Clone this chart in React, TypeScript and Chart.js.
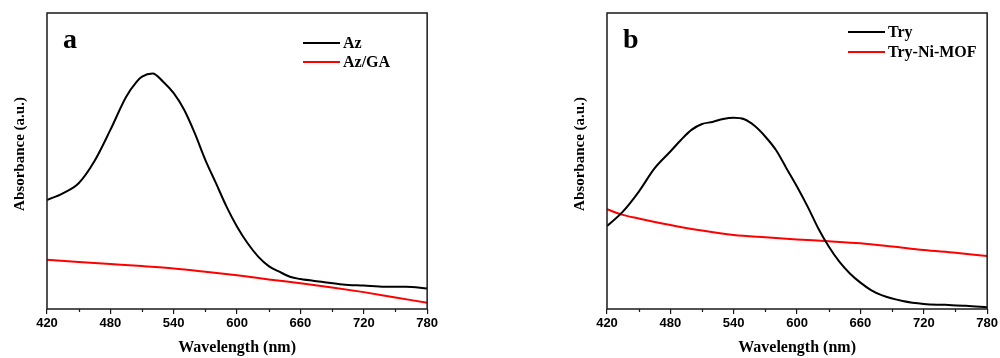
import React, { useEffect, useRef } from "react";
import { Chart, registerables } from "chart.js";
Chart.register(...registerables);

const X_MIN = 420;
const X_MAX = 780;
const X_STEP = 60;
const X_MINOR = [450, 510, 570, 630, 690, 750];

const AZ_X = [420, 435, 450, 465, 480, 495, 505, 510, 520, 530, 540, 550, 560, 570, 580, 590, 600, 610, 620, 630, 640, 650, 660, 680, 700, 720, 740, 760, 780];
const AZ_Y = [0.368, 0.391, 0.425, 0.5, 0.605, 0.717, 0.768, 0.785, 0.796, 0.768, 0.729, 0.672, 0.593, 0.503, 0.425, 0.346, 0.278, 0.222, 0.177, 0.145, 0.126, 0.109, 0.101, 0.092, 0.083, 0.079, 0.075, 0.075, 0.069];

const AZGA_X = [420, 480, 510, 540, 570, 600, 630, 660, 690, 720, 750, 780];
const AZGA_Y = [0.166, 0.152, 0.145, 0.137, 0.126, 0.114, 0.1, 0.087, 0.073, 0.057, 0.039, 0.021];

const TRY_X = [420, 435, 450, 465, 480, 490, 500, 510, 520, 530, 540, 550, 560, 570, 580, 590, 600, 610, 620, 630, 640, 650, 660, 670, 680, 700, 720, 740, 760, 780];
const TRY_Y = [0.28, 0.329, 0.396, 0.475, 0.532, 0.571, 0.605, 0.625, 0.632, 0.642, 0.646, 0.641, 0.618, 0.582, 0.537, 0.475, 0.413, 0.346, 0.273, 0.211, 0.16, 0.12, 0.089, 0.064, 0.047, 0.027, 0.017, 0.014, 0.011, 0.006];

const MOF_X = [420, 435, 450, 480, 510, 540, 570, 600, 630, 660, 690, 720, 750, 780];
const MOF_Y = [0.337, 0.318, 0.306, 0.284, 0.265, 0.25, 0.242, 0.235, 0.229, 0.222, 0.211, 0.199, 0.19, 0.179];

const LABELS_A = ["Az", "Az/GA"];
const LABELS_B = ["Try", "Try-Ni-MOF"];
const COLORS = ["#000000", "#ff0000"];
const X_TITLE = "Wavelength (nm)";
const Y_TITLE = "Absorbance (a.u.)";

const SERIF = "'Liberation Serif', 'Times New Roman', serif";
const SANS = "'Liberation Sans', Arial, sans-serif";

type PanelProps = {
  letter: string;
  xs: number[][];
  ys: number[][];
  labels: string[];
  legendRows: number[];
  legendX: number;
  left: number;
};

function Panel({ letter, xs, ys, labels, legendRows, legendX, left }: PanelProps) {
  const ref = useRef<HTMLCanvasElement | null>(null);
  useEffect(() => {
    if (!ref.current) return;
    const decor = {
      id: "decor",
      afterDraw(chart: any) {
        const ctx = chart.ctx;
        const a = chart.chartArea;
        const xs2 = chart.scales.x;
        ctx.save();
        // frame
        ctx.strokeStyle = "#1a1a1a";
        ctx.lineWidth = 1.5;
        ctx.strokeRect(a.left, a.top, a.right - a.left, a.bottom - a.top);
        // minor ticks
        ctx.lineWidth = 1.2;
        for (const v of X_MINOR) {
          const px = Math.round(xs2.getPixelForValue(v)) + 0.5;
          ctx.beginPath();
          ctx.moveTo(px, a.bottom);
          ctx.lineTo(px, a.bottom + 3);
          ctx.stroke();
        }
        // y title
        ctx.fillStyle = "#000";
        ctx.save();
        ctx.translate(20, 154);
        ctx.rotate(-Math.PI / 2);
        ctx.font = `bold 15px ${SERIF}`;
        ctx.textAlign = "center";
        ctx.textBaseline = "middle";
        ctx.fillText(Y_TITLE, 0, 0);
        ctx.restore();
        // letter
        ctx.font = `bold 28px ${SERIF}`;
        ctx.textBaseline = "alphabetic";
        ctx.textAlign = "left";
        ctx.fillText(letter, a.left + 16, 48);
        // legend
        ctx.font = `bold 16px ${SERIF}`;
        ctx.textBaseline = "middle";
        labels.forEach((lab, i) => {
          const y = legendRows[i];
          ctx.strokeStyle = COLORS[i];
          ctx.lineWidth = 2;
          ctx.beginPath();
          ctx.moveTo(legendX, y);
          ctx.lineTo(legendX + 37, y);
          ctx.stroke();
          ctx.fillStyle = "#000";
          ctx.fillText(lab, legendX + 40, y + 1);
        });
        ctx.restore();
      },
    };
    const chart = new Chart(ref.current, {
      type: "line",
      data: {
        datasets: labels.map((lab, i) => ({
          label: lab,
          data: xs[i].map((x, j) => ({ x, y: ys[i][j] })),
          borderColor: COLORS[i],
          borderWidth: 2,
          pointRadius: 0,
          cubicInterpolationMode: "monotone" as const,
          fill: false,
        })),
      },
      options: {
        animation: false,
        responsive: false,
        maintainAspectRatio: false,
        layout: { padding: { left: 0, top: 13, right: 12, bottom: 0 } },
        plugins: { legend: { display: false }, tooltip: { enabled: false } },
        scales: {
          x: {
            type: "linear",
            min: X_MIN,
            max: X_MAX,
            afterFit: (s: any) => {
              s.height = 49;
            },
            afterBuildTicks: (s: any) => {
              const t = [];
              for (let v = X_MIN; v <= X_MAX; v += X_STEP) t.push({ value: v });
              s.ticks = t;
            },
            ticks: {
              color: "#000",
              font: { family: SANS, weight: "bold", size: 13 },
              padding: 2,
              maxRotation: 0,
              autoSkip: false,
            },
            grid: {
              display: true,
              drawOnChartArea: false,
              drawTicks: true,
              tickLength: 5,
              color: "#1a1a1a",
              lineWidth: 1.2,
            },
            border: { display: false },
            title: {
              display: true,
              text: X_TITLE,
              color: "#000",
              font: { family: SERIF, weight: "bold", size: 16 },
              padding: { top: 0, bottom: 1 },
            },
          },
          y: {
            type: "linear",
            min: 0,
            max: 1,
            afterFit: (s: any) => {
              s.width = 47;
            },
            ticks: { display: false },
            grid: { display: false },
            border: { display: false },
            title: { display: false },
          },
        },
      },
      plugins: [decor],
    });
    return () => chart.destroy();
  }, []);
  return (
    <canvas
      ref={ref}
      width={440}
      height={358}
      style={{ position: "absolute", left, top: 0, width: 440, height: 358 }}
    />
  );
}

export default function App() {
  return (
    <div style={{ position: "fixed", left: 0, top: 0, width: 1000, height: 358, background: "#fff", overflow: "hidden" }}>
      <Panel letter="a" xs={[AZ_X, AZGA_X]} ys={[AZ_Y, AZGA_Y]} labels={LABELS_A} legendRows={[43, 62]} legendX={303} left={0} />
      <Panel letter="b" xs={[TRY_X, MOF_X]} ys={[TRY_Y, MOF_Y]} labels={LABELS_B} legendRows={[32, 52]} legendX={288} left={560} />
    </div>
  );
}
